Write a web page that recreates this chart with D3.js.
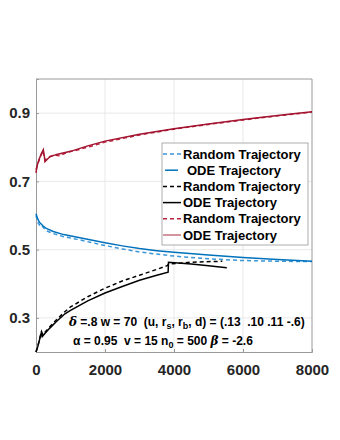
<!DOCTYPE html>
<html>
<head>
<meta charset="utf-8">
<script src="https://cdn.jsdelivr.net/npm/d3@7"></script>
<style>
  body { margin: 0; background: #fff; }
  svg text { font-family: "Liberation Sans", Arial, sans-serif; font-weight: bold; white-space: pre; }
</style>
</head>
<body>
<div id="chartHolder"></div>
<script>
// data (time, value)
const xTicks = [0, 2000, 4000, 6000, 8000];
const yTicks = [0.3, 0.5, 0.7, 0.9];

const blueOdeT = [0, 50, 100, 200, 300, 500, 800, 1200, 1600, 2000, 2500, 3000, 3500, 4000, 5000, 6000, 7000, 8000];
const blueOdeV = [0.605, 0.59, 0.58, 0.57, 0.562, 0.553, 0.544, 0.536, 0.528, 0.52, 0.511, 0.503, 0.497, 0.492, 0.484, 0.477, 0.471, 0.466];
const blueRndT = [0, 30, 60, 100, 150, 200, 300, 500, 800, 1200, 1600, 2000, 2500, 3000, 3500, 4000, 5000, 6000, 7000, 8000];
const blueRndV = [0.6, 0.588, 0.578, 0.572, 0.574, 0.566, 0.555, 0.547, 0.538, 0.53, 0.521, 0.512, 0.502, 0.493, 0.487, 0.481, 0.473, 0.468, 0.466, 0.465];

const blackOdeT = [0, 50, 100, 150, 180, 220, 400, 600, 840, 1000, 1500, 2000, 2500, 3000, 3500, 3830, 3840, 4500, 5000, 5530];
const blackOdeV = [0.2, 0.215, 0.235, 0.255, 0.245, 0.25, 0.27, 0.29, 0.312, 0.322, 0.35, 0.373, 0.392, 0.41, 0.425, 0.434, 0.463, 0.458, 0.453, 0.447];
const blackRndT = [0, 60, 120, 160, 200, 260, 500, 800, 1000, 1500, 2000, 2500, 3000, 3500, 3800, 3850, 4500, 5400];
const blackRndV = [0.2, 0.22, 0.245, 0.26, 0.25, 0.258, 0.285, 0.315, 0.332, 0.362, 0.387, 0.408, 0.425, 0.442, 0.453, 0.458, 0.463, 0.466];

const redOdeT = [0, 30, 80, 150, 212, 240, 260, 300, 400, 600, 1000, 1500, 2000, 3000, 4000, 5000, 6000, 7000, 8000];
const redOdeV = [0.725, 0.745, 0.762, 0.78, 0.793, 0.775, 0.758, 0.762, 0.772, 0.779, 0.788, 0.804, 0.818, 0.838, 0.854, 0.868, 0.881, 0.893, 0.904];
const redRndT = [0, 100, 200, 260, 350, 500, 700, 900, 1200, 1600, 2000, 3000, 4000, 5000, 6000, 7000, 8000];
const redRndV = [0.735, 0.765, 0.79, 0.762, 0.77, 0.777, 0.775, 0.785, 0.792, 0.803, 0.815, 0.836, 0.853, 0.867, 0.88, 0.892, 0.903];

const legendLabels = ["Random Trajectory", "ODE Trajectory", "Random Trajectory", "ODE Trajectory", "Random Trajectory", "ODE Trajectory"];

const width = 340;
const height = 440;
const svg = d3.select("#chartHolder")
  .append("svg")
  .attr("width", width)
  .attr("height", height);

const xScale = d3.scaleLinear().domain([0, 8000]).range([36, 312]);
const yScale = d3.scaleLinear().domain([0.2, 1.0]).range([352, 79]);

// grid
svg.append("g").selectAll("line").data(xTicks.slice(1, -1)).enter().append("line")
  .attr("x1", d => xScale(d)).attr("x2", d => xScale(d))
  .attr("y1", 79).attr("y2", 352)
  .attr("stroke", "#e3e3e3").attr("stroke-width", 0.8);
svg.append("g").selectAll("line").data(yTicks).enter().append("line")
  .attr("x1", 36).attr("x2", 312)
  .attr("y1", d => yScale(d)).attr("y2", d => yScale(d))
  .attr("stroke", "#e3e3e3").attr("stroke-width", 0.8);

// axes
const xAxis = d3.axisBottom(xScale).tickValues(xTicks).tickSize(-3).tickPadding(12).tickFormat(d3.format("d"));
const gx = svg.append("g").attr("transform", "translate(0,352)").call(xAxis);
const yAxis = d3.axisLeft(yScale).tickValues(yTicks).tickSize(-3).tickPadding(6).tickFormat(d3.format(".1f"));
const gy = svg.append("g").attr("transform", "translate(36,0)").call(yAxis);
[gx, gy].forEach(g => {
  g.selectAll("path").attr("stroke", "#9a9a9a");
  g.selectAll("line").attr("stroke", "#9a9a9a");
  g.selectAll("text").attr("fill", "#262626").style("font-size", "15px");
});
svg.append("path")
  .attr("d", "M36,79H312V352")
  .attr("fill", "none").attr("stroke", "#9a9a9a");

// lines
const line = d3.line().x(d => xScale(d[0])).y(d => yScale(d[1]));
const series = [
  {t: blueRndT, v: blueRndV, color: "#3b96d8", dash: "4,3"},
  {t: blueOdeT, v: blueOdeV, color: "#0072BD", dash: null},
  {t: blackRndT, v: blackRndV, color: "#000", dash: "4,3"},
  {t: blackOdeT, v: blackOdeV, color: "#000", dash: null},
  {t: redRndT, v: redRndV, color: "#b8223f", dash: "4,3"},
  {t: redOdeT, v: redOdeV, color: "#A2142F", dash: null}
];
series.forEach(s => {
  svg.append("path")
    .datum(s.t.map((t, i) => [t, s.v[i]]))
    .attr("d", line)
    .attr("fill", "none")
    .attr("stroke", s.color)
    .attr("stroke-width", 1.5)
    .attr("stroke-dasharray", s.dash);
});

// legend
const lg = svg.append("g");
lg.append("rect").attr("x", 162).attr("y", 143).attr("width", 146).attr("height", 102)
  .attr("fill", "#fff").attr("stroke", "#9a9a9a").attr("stroke-width", 0.8);
legendLabels.forEach((lab, i) => {
  const y = 154 + i * 16.2;
  const s = series[i];
  lg.append("line")
    .attr("x1", i === 1 ? 165 : 163).attr("x2", i === 1 ? 178 : 181)
    .attr("y1", y).attr("y2", y)
    .attr("stroke", s.color).attr("stroke-width", 1.5)
    .attr("stroke-dasharray", s.dash ? "4,3" : null)
    .attr("opacity", i === 5 ? 0.6 : 1);
  lg.append("text")
    .attr("x", i === 1 ? 187 : 183).attr("y", y + 4.5)
    .style("font-size", "13px").attr("fill", "#000")
    .text(lab);
});

// annotations
const t1 = svg.append("text").attr("x", 69).attr("y", 326).style("font-size", "12px").attr("fill", "#000");
t1.append("tspan").style("font-style", "italic").style("font-family", "DejaVu Serif").text("δ");
t1.append("tspan").text(" =.8 w = 70  (u, r");
t1.append("tspan").attr("dy", 3).style("font-size", "9px").text("s");
t1.append("tspan").attr("dy", -3).text(", r");
t1.append("tspan").attr("dy", 3).style("font-size", "9px").text("b");
t1.append("tspan").attr("dy", -3).text(", d) = (.13  .10 .11 -.6)");

const t2 = svg.append("text").attr("x", 73).attr("y", 345).style("font-size", "12px").attr("fill", "#000");
t2.append("tspan").text("α = 0.95  v = 15 n");
t2.append("tspan").attr("dy", 3).style("font-size", "9px").text("0");
t2.append("tspan").attr("dy", -3).text(" = 500 ");
t2.append("tspan").style("font-style", "italic").style("font-family", "DejaVu Serif").text("β");
t2.append("tspan").text(" = -2.6");
</script>
</body>
</html>
